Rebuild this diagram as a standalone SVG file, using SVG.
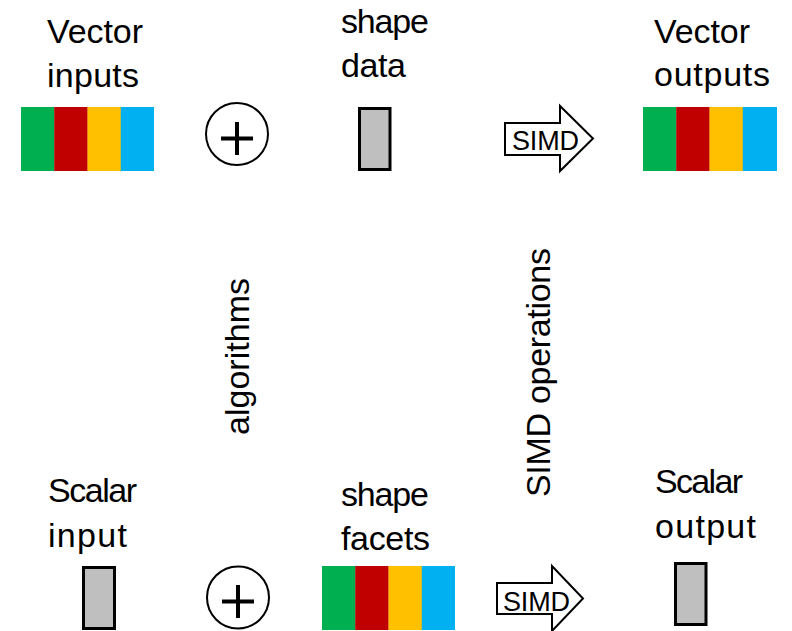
<svg xmlns="http://www.w3.org/2000/svg" width="792" height="631" viewBox="0 0 792 631">
<style>
.t{font-family:"Liberation Sans",Arial,sans-serif;font-size:34px;fill:#000}
.s{font-family:"Liberation Sans",Arial,sans-serif;font-size:27px;fill:#000}
.g{fill:#00B050}.r{fill:#C00000}.y{fill:#FFC000}.b{fill:#00B0F0}
.gray{fill:#BFBFBF;stroke:#000;stroke-width:3}
.circ{fill:#fff;stroke:#000;stroke-width:2}
.plus{stroke:#000;stroke-width:4;fill:none}
.arr{fill:#fff;stroke:#000;stroke-width:2;stroke-linejoin:miter}
</style>
<rect width="792" height="631" fill="#fff"/>
<g id="vector-inputs">
<text class="t" x="47" y="43" textLength="96">Vector</text>
<text class="t" x="47" y="87" textLength="92">inputs</text>
<rect class="g" x="21" y="107" width="33.5" height="64"/>
<rect class="r" x="54.25" y="107" width="33.5" height="64"/>
<rect class="y" x="87.5" y="107" width="33.5" height="64"/>
<rect class="b" x="120.75" y="107" width="33.25" height="64"/>
</g>
<g id="plus-top">
<circle class="circ" cx="237" cy="134" r="31"/>
<path class="plus" d="M221 138.5H253M237 122V155"/>
</g>
<g id="shape-data">
<text class="t" x="341" y="33" textLength="88">shape</text>
<text class="t" x="341" y="77" textLength="65">data</text>
<rect class="gray" x="359.5" y="108.5" width="30.5" height="61"/>
</g>
<g id="simd-top">
<path class="arr" d="M505 123H560V106L593 138.5L560 171V155H505Z"/>
<text class="s" x="512" y="150" textLength="67">SIMD</text>
</g>
<g id="vector-outputs">
<text class="t" x="654" y="43" textLength="96">Vector</text>
<text class="t" x="654" y="86" textLength="116">outputs</text>
<rect class="g" x="643" y="107" width="33.5" height="64"/>
<rect class="r" x="676.25" y="107" width="33.5" height="64"/>
<rect class="y" x="709.5" y="107" width="33.5" height="64"/>
<rect class="b" x="742.75" y="107" width="34.25" height="64"/>
</g>
<g id="algorithms">
<text class="t" transform="translate(249 435) rotate(-90)" x="0" y="0" textLength="157">algorithms</text>
</g>
<g id="simd-operations">
<text class="t" transform="translate(550 497) rotate(-90)" x="0" y="0" textLength="249">SIMD operations</text>
</g>
<g id="scalar-input">
<text class="t" x="48" y="502" textLength="89">Scalar</text>
<text class="t" x="48" y="547" textLength="79">input</text>
<rect class="gray" x="83.5" y="567.5" width="31" height="61"/>
</g>
<g id="plus-bottom">
<circle class="circ" cx="238" cy="597.5" r="31"/>
<path class="plus" d="M222 601.5H254M238 585V618"/>
</g>
<g id="shape-facets">
<text class="t" x="341" y="506" textLength="88">shape</text>
<text class="t" x="341" y="550" textLength="89">facets</text>
<rect class="g" x="322" y="566" width="33.5" height="64"/>
<rect class="r" x="355.25" y="566" width="33.5" height="64"/>
<rect class="y" x="388.5" y="566" width="33.5" height="64"/>
<rect class="b" x="421.75" y="566" width="33.25" height="64"/>
</g>
<g id="simd-bottom">
<path class="arr" d="M497 583H552V566L583 598.5L552 631V614H497Z"/>
<text class="s" x="503" y="610.5" textLength="67">SIMD</text>
</g>
<g id="scalar-output">
<text class="t" x="655" y="493" textLength="88">Scalar</text>
<text class="t" x="655" y="538" textLength="101">output</text>
<rect class="gray" x="675.5" y="563.5" width="30.5" height="61"/>
</g>
<g id="connectors"></g>
</svg>
